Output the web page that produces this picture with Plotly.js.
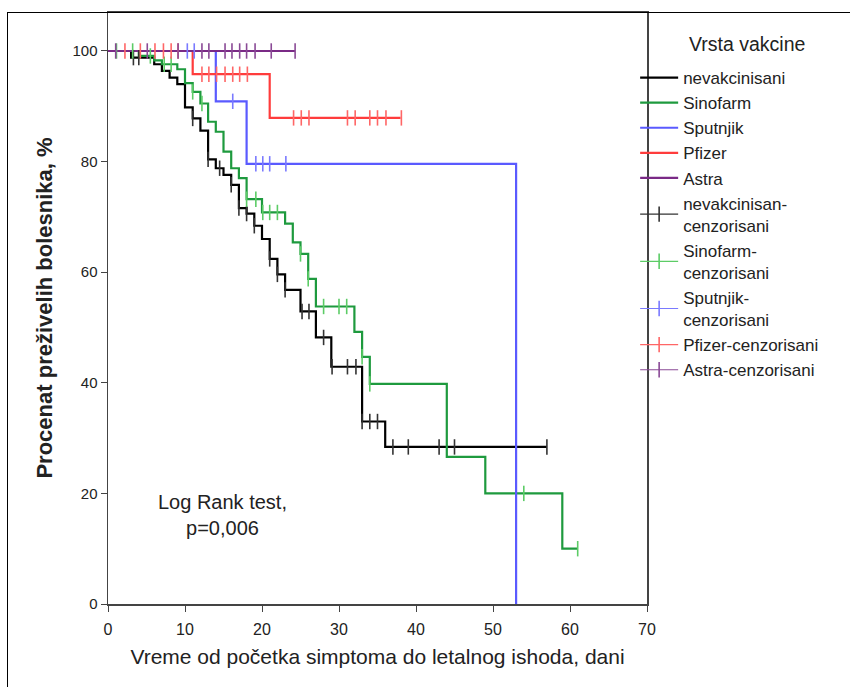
<!DOCTYPE html>
<html>
<head>
<meta charset="utf-8">
<script src="https://cdn.plot.ly/plotly-3.0.1.min.js"></script>
<style>
  html, body { margin: 0; padding: 0; background: #fff; }
  #wrap { position: relative; width: 850px; height: 687px; overflow: hidden; }
  #chart { position: absolute; left: 0; top: 0; width: 850px; height: 687px; }
  #frame { position: absolute; left: 7px; top: 12px; width: 860px; height: 700px;
           border-left: 1px solid #000; border-top: 1px solid #000; pointer-events: none; }
</style>
</head>
<body>
<div id="wrap"><div id="chart"></div><div id="frame"></div></div>
<script>
// ---- Data ----
const groupNames = ['nevakcinisani', 'Sinofarm', 'Sputnjik', 'Pfizer', 'Astra'];
const censorNames = ['nevakcinisan-<br>cenzorisani', 'Sinofarm-<br>cenzorisani', 'Sputnjik-<br>cenzorisani', 'Pfizer-cenzorisani', 'Astra-cenzorisani'];
const legendTitle = 'Vrsta vakcine';

// nevakcinisani: event times and survival (%) after each step
const nevakTimes = [0, 3, 6, 7, 8, 9, 10, 11, 12, 13, 14, 15, 16, 17, 18, 19, 20, 21, 22, 23, 25, 27, 29, 33, 36, 57];
const nevakSurv  = [100, 98.8, 97.6, 96.4, 95.2, 94.0, 89.8, 87.8, 85.6, 80.4, 78.8, 77.6, 75.8, 71.6, 70.6, 68.4, 66.0, 62.4, 59.6, 56.8, 52.9, 48.2, 42.9, 33.0, 28.4, 28.4];
const nevakCens  = [3.3, 4, 11, 13, 14.5, 16, 17, 18, 19, 21, 22, 23, 25.2, 26.1, 28, 29.1, 31.1, 32.2, 33, 34, 35, 37, 39, 43, 45, 57];

// Sinofarm
const sinoTimes = [0, 4, 6, 7, 9, 10, 11, 12, 13, 14, 15, 16, 17, 18, 20, 23, 24, 25, 26, 27, 32, 33, 34, 44, 49, 59, 61];
const sinoSurv  = [100, 99.1, 98.3, 97.6, 96.7, 94.2, 92.6, 90.5, 87.2, 85.4, 81.8, 78.8, 77.0, 73.2, 70.8, 68.8, 65.4, 63.3, 58.8, 53.8, 49.2, 44.7, 39.8, 26.6, 20.0, 10.0, 10.0];
const sinoCens  = [1.1, 3.2, 5.5, 7.3, 8.2, 11, 12.2, 18, 19.2, 20.1, 21, 22, 25, 26, 28, 30, 31, 33, 34, 54, 61];

// Sputnjik
const sputTimes = [0, 14, 18, 53];
const sputSurv  = [100, 90.9, 79.6, 0];
const sputCens  = [10.3, 11.2, 16.2, 19.2, 20.1, 21, 23.1];

// Pfizer
const pfizTimes = [0, 11, 21, 38];
const pfizSurv  = [100, 95.8, 87.9, 87.9];
const pfizCens  = [2.2, 4.2, 6.1, 7.2, 8.2, 9.1, 12.2, 13.1, 14.1, 15.2, 16.2, 17.1, 18.1, 24.1, 25.1, 26.1, 31.1, 32.1, 34, 35, 36.1, 38.1];

// Astra
const astraTimes = [0, 24.3];
const astraSurv  = [100, 100];
const astraCens  = [1, 5.1, 9.1, 12.2, 13.1, 15.2, 16.1, 17.1, 18, 19.1, 21.2, 24.3];

const xTicks = [0, 10, 20, 30, 40, 50, 60, 70];
const yTicks = [0, 20, 40, 60, 80, 100];

// ---- Styles ----
const lineColors = ['#000000', '#1e9a3e', '#5a5aff', '#ff3c3c', '#7a2a86'];
const censColors = ['#333333', '#5ccc66', '#7a7aff', '#ff6666', '#8a4a96'];

const times = [nevakTimes, sinoTimes, sputTimes, pfizTimes, astraTimes];
const survs = [nevakSurv, sinoSurv, sputSurv, pfizSurv, astraSurv];
const cens  = [nevakCens, sinoCens, sputCens, pfizCens, astraCens];

function survAt(t, s, x) {
  let v = s[0];
  for (let i = 0; i < t.length; i++) { if (t[i] <= x + 1e-9) v = s[i]; }
  return v;
}

const traces = [];
for (let g = 0; g < 5; g++) {
  traces.push({
    x: times[g], y: survs[g], type: 'scatter', mode: 'lines',
    line: { shape: 'hv', color: lineColors[g], width: 2.2 },
    name: groupNames[g], hoverinfo: 'skip'
  });
}
for (let g = 0; g < 5; g++) {
  const cx = [], cy = [];
  cens[g].forEach(function (t) {
    cx.push(t, null);
    cy.push(survAt(times[g], survs[g], t), null);
  });
  traces.push({
    x: cx, y: cy, type: 'scatter', mode: 'lines+markers', connectgaps: false,
    line: { color: censColors[g], width: 1.2 },
    marker: { symbol: 'line-ns', size: 11, line: { color: censColors[g], width: 1.6 } },
    name: censorNames[g], hoverinfo: 'skip'
  });
}

const font = 'Liberation Sans, Arial, sans-serif';
const PL = 108, PR = 647, PT = 12, PB = 604; // plot-area pixel edges
const layout = {
  width: 850, height: 687,
  margin: { l: PL, r: 850 - PR, t: PT, b: 687 - PB },
  paper_bgcolor: '#ffffff', plot_bgcolor: '#ffffff',
  font: { family: font, color: '#222', size: 15 },
  showlegend: true,
  xaxis: {
    range: [0, 70], tickvals: xTicks, ticks: 'outside', ticklen: 6, tickcolor: '#444',
    showgrid: false, zeroline: false, showline: true, linecolor: '#444', linewidth: 1.5, mirror: true,
    tickfont: { size: 16, family: font }, ticklabelstandoff: 4,
    title: { text: 'Vreme od početka simptoma do letalnog ishoda, dani', font: { size: 21, family: font }, standoff: 12 }
  },
  yaxis: {
    range: [0, 107.05], tickvals: yTicks, ticks: 'outside', ticklen: 6, tickcolor: '#444',
    showgrid: false, zeroline: false, showline: true, linecolor: '#444', linewidth: 1.5, mirror: true,
    tickfont: { size: 15, family: font },
    title: { text: '<b>Procenat preživelih bolesnika, %</b>', font: { size: 22, family: font }, standoff: 14 }
  },
  legend: {
    x: 0.978, xanchor: 'left', y: (PB - 60) / (PB - PT), yanchor: 'top',
    bgcolor: 'rgba(0,0,0,0)', borderwidth: 0,
    font: { size: 17, family: font, color: '#222' },
    itemwidth: 38, tracegroupgap: 0
  },
  annotations: [{
    x: 14.9, y: 16.1, xref: 'x', yref: 'y', showarrow: false,
    text: 'Log Rank test,<br>p=0,006', align: 'center',
    font: { size: 20, family: font, color: '#222' }
  }, {
    x: (747 - PL) / (PR - PL), y: (PB - 44) / (PB - PT), xref: 'paper', yref: 'paper',
    xanchor: 'center', yanchor: 'middle', showarrow: false,
    text: legendTitle, font: { size: 19.5, family: font, color: '#222' }
  }]
};

Plotly.newPlot('chart', traces, layout, { displayModeBar: false, staticPlot: true });
</script>
</body>
</html>
